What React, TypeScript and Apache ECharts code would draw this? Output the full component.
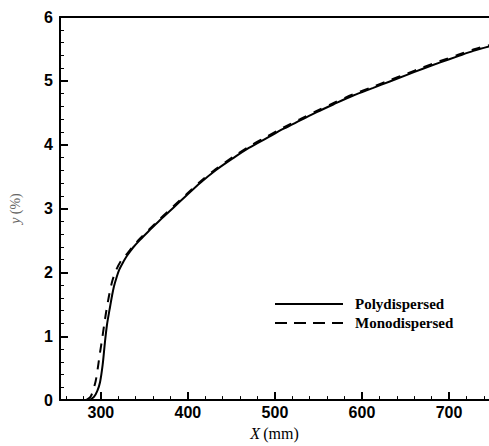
import React, { useEffect, useRef } from "react";
import * as echarts from "echarts";

const xMajorTicks = [300, 400, 500, 600, 700];
const xMinorTicks = [260, 280, 320, 340, 360, 380, 420, 440, 460, 480, 520, 540, 560, 580, 620, 640, 660, 680, 720, 740];

const polyX = [287, 292, 296, 299, 302, 304.6, 307, 310, 313, 315, 318, 321, 326, 330, 337, 345, 356, 368, 383, 398, 414, 432, 452, 470, 490, 510, 529, 548, 567, 590, 613, 632, 651, 670, 690, 709, 728, 746];
const polyY = [0, 0.05, 0.15, 0.28, 0.55, 0.9, 1.18, 1.42, 1.65, 1.78, 1.92, 2.04, 2.17, 2.26, 2.39, 2.51, 2.66, 2.82, 3.01, 3.2, 3.4, 3.6, 3.79, 3.95, 4.1, 4.25, 4.38, 4.51, 4.63, 4.77, 4.89, 4.99, 5.09, 5.19, 5.29, 5.38, 5.47, 5.54];

const monoX = [283, 288, 291, 294, 296, 298.5, 301, 304, 306.5, 310, 313.4, 318, 324, 330, 337, 345, 356, 368, 383, 398, 414, 432, 452, 470, 490, 510, 529, 548, 567, 590, 613, 632, 651, 670, 690, 709, 728, 746];
const monoY = [0, 0.05, 0.15, 0.3, 0.46, 0.7, 0.92, 1.2, 1.42, 1.68, 1.88, 2.05, 2.2, 2.29, 2.41, 2.53, 2.68, 2.84, 3.03, 3.22, 3.42, 3.62, 3.81, 3.97, 4.12, 4.27, 4.4, 4.53, 4.65, 4.79, 4.91, 5.01, 5.11, 5.21, 5.31, 5.4, 5.49, 5.56];

const seriesNames = ["Polydispersed", "Monodispersed"];

const X_MIN = 253;
const X_MAX = 746;

export default function App() {
  const ref = useRef<HTMLDivElement>(null);
  useEffect(() => {
    if (!ref.current) return;
    const chart = echarts.init(ref.current, undefined, { renderer: "svg" });
    const tickFont = {
      fontFamily: "Liberation Sans, Arial, sans-serif",
      fontWeight: "bold" as const,
      fontSize: 16,
      color: "#000",
    };
    const poly = polyX.map((x, i) => [x, polyY[i]]);
    const mono = monoX.map((x, i) => [x, monoY[i]]);
    chart.setOption({
      animation: false,
      backgroundColor: "#fff",
      grid: { left: 60, top: 17, right: 0, bottom: 36, containLabel: false },
      xAxis: [
        {
          type: "value",
          min: X_MIN,
          max: X_MAX,
          position: "bottom",
          axisLine: { show: true, lineStyle: { color: "#000", width: 2 } },
          axisTick: {
            show: true,
            inside: true,
            length: 8,
            customValues: xMajorTicks,
            lineStyle: { color: "#000", width: 2 },
          },
          axisLabel: { show: true, customValues: xMajorTicks, margin: 4, ...tickFont },
          splitLine: { show: false },
          name: "{i|X} {n|(mm)}",
          nameLocation: "middle",
          nameGap: 13,
          nameTextStyle: {
            rich: {
              i: { fontFamily: "Liberation Serif, Times New Roman, serif", fontStyle: "italic", fontSize: 16, color: "#000" },
              n: { fontFamily: "Liberation Serif, Times New Roman, serif", fontSize: 16, color: "#000" },
            },
          },
        },
        {
          type: "value",
          min: X_MIN,
          max: X_MAX,
          position: "bottom",
          axisLine: { show: false },
          axisTick: {
            show: true,
            inside: true,
            length: 4,
            customValues: xMinorTicks,
            lineStyle: { color: "#000", width: 1 },
          },
          axisLabel: { show: false },
          splitLine: { show: false },
        },
        {
          type: "value",
          min: X_MIN,
          max: X_MAX,
          position: "top",
          axisLine: { show: true, lineStyle: { color: "#000", width: 2 } },
          axisTick: { show: false },
          axisLabel: { show: false },
          splitLine: { show: false },
        },
      ],
      yAxis: {
        type: "value",
        min: 0,
        max: 6,
        interval: 1,
        axisLine: { show: true, lineStyle: { color: "#000", width: 2 } },
        axisTick: { show: true, inside: true, length: 8, lineStyle: { color: "#000", width: 2 } },
        minorTick: { show: true, splitNumber: 5, length: 4, lineStyle: { color: "#000", width: 1 } },
        axisLabel: { margin: 7, ...tickFont },
        splitLine: { show: false },
        minorSplitLine: { show: false },
        name: "{i|y} {n|(%)}",
        nameLocation: "middle",
        nameRotate: 90,
        nameGap: 38,
        nameTextStyle: {
          rich: {
            i: { fontFamily: "Liberation Serif, Times New Roman, serif", fontStyle: "italic", fontSize: 14, color: "#666" },
            n: { fontFamily: "Liberation Serif, Times New Roman, serif", fontSize: 14, color: "#666" },
          },
        },
      },
      series: [
        {
          name: seriesNames[0],
          type: "line",
          xAxisIndex: 0,
          data: poly,
          showSymbol: false,
          symbol: "none",
          smooth: 0.3,
          lineStyle: { color: "#000", width: 2, type: "solid" },
        },
        {
          name: seriesNames[1],
          type: "line",
          xAxisIndex: 0,
          data: mono,
          showSymbol: false,
          symbol: "none",
          smooth: 0.3,
          lineStyle: { color: "#000", width: 2, type: [9, 8] },
        },
      ],
      graphic: [
        {
          type: "line",
          shape: { x1: 275, y1: 304, x2: 343, y2: 304 },
          style: { stroke: "#000", lineWidth: 2 },
        },
        {
          type: "text",
          x: 355,
          y: 304,
          style: {
            text: seriesNames[0],
            font: "bold 15px 'Liberation Serif', 'Times New Roman', serif",
            fill: "#000",
            verticalAlign: "middle",
            align: "left",
          },
        },
        {
          type: "line",
          shape: { x1: 275, y1: 323, x2: 343, y2: 323 },
          style: { stroke: "#000", lineWidth: 2, lineDash: [12, 7] },
        },
        {
          type: "text",
          x: 355,
          y: 323,
          style: {
            text: seriesNames[1],
            font: "bold 15px 'Liberation Serif', 'Times New Roman', serif",
            fill: "#000",
            verticalAlign: "middle",
            align: "left",
          },
        },
      ],
    });
    return () => chart.dispose();
  }, []);
  return (
    <div
      ref={ref}
      style={{ position: "fixed", left: 0, top: 0, width: 489, height: 446 }}
    />
  );
}
